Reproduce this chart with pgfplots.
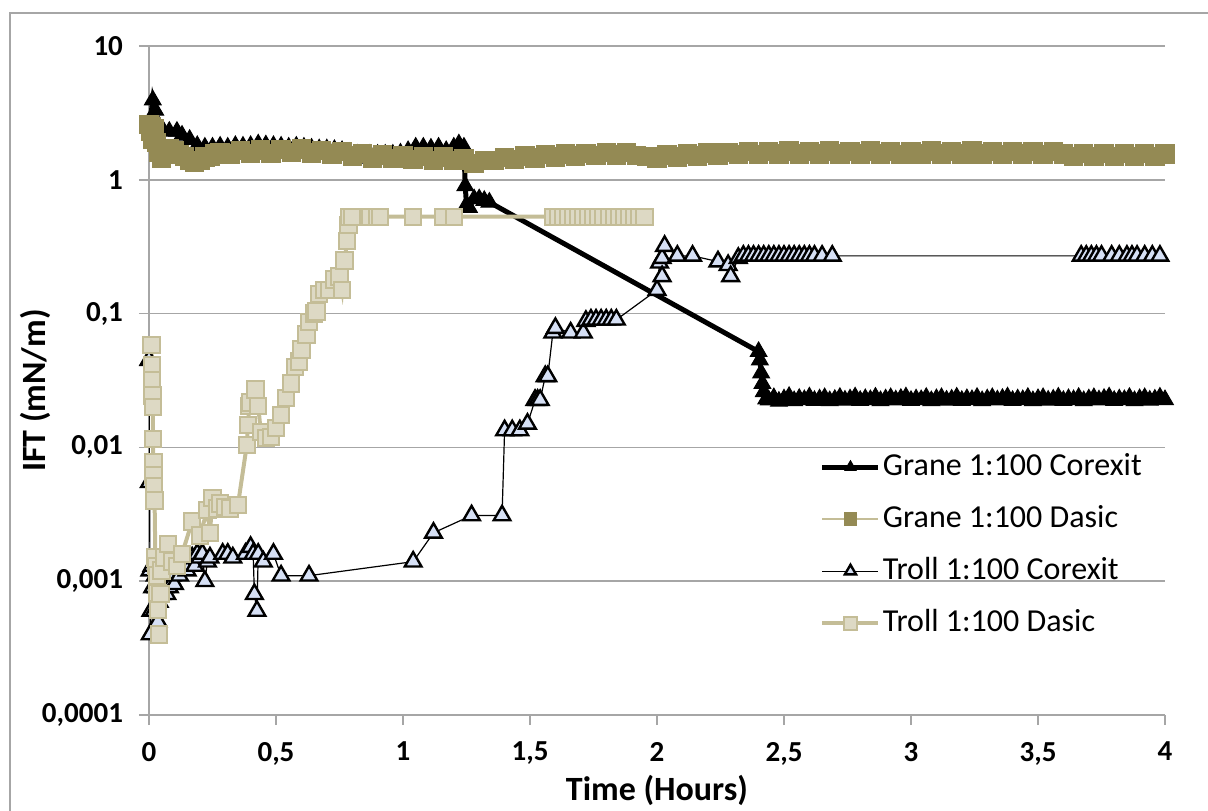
\documentclass[border=0pt]{standalone}
\usepackage{pgfplots}
\pgfplotsset{compat=1.18}
\usepackage{fontspec}
\setmainfont{Carlito}
\definecolor{gridc}{HTML}{A6A6A6}
\definecolor{olive}{HTML}{948A54}
\definecolor{olivel}{HTML}{C4BD97}
\definecolor{tanf}{HTML}{DDD9C4}
\definecolor{tane}{HTML}{C4BD97}
\definecolor{bluef}{HTML}{D6E0F5}
\begin{document}
\begin{tikzpicture}
\useasboundingbox (-74.5pt,-47.5pt) rectangle (529.5pt,357.5pt);
\draw[gridc, line width=0.8pt] (-69.5pt,-100pt) -- (-69.5pt,351pt) -- (700pt,351pt);
\begin{axis}[
  scale only axis, width=508pt, height=334.5pt,
  ymode=log, xmin=0, xmax=4, ymin=0.0001, ymax=10,
  axis x line=bottom, axis y line=left,
  axis line style={gridc, line width=0.8pt, -},
  tick style={gridc, line width=0.8pt},
  tick align=outside, major tick length=5pt,
  minor tick num=0, yminorticks=false,
  ymajorgrids, grid style={gridc, line width=0.8pt},
  xtick={0,0.5,1,1.5,2,2.5,3,3.5,4},
  xticklabels={0,{0,5},1,{1,5},2,{2,5},3,{3,5},4},
  ytick={0.0001,0.001,0.01,0.1,1,10},
  yticklabels={{0,0001},{0,001},{0,01},{0,1},1,10},
  ticklabel style={font=\bfseries\fontsize{14.5}{16}\selectfont, text=black},
  yticklabel style={xshift=-4.5pt},
  xticklabel style={yshift=-5pt},
  every axis x label/.style={at={(rel axis cs:0.5,0)}, yshift=-37.5pt, anchor=center},
  every axis y label/.style={at={(rel axis cs:0,0.485)}, xshift=-57pt, rotate=90, anchor=center},
  xlabel={Time (Hours)}, ylabel={IFT (mN/m)},
  label style={font=\bfseries\fontsize{17}{19}\selectfont},
  legend style={draw=none, fill=none, at={(rel axis cs:0.66,0.395)}, anchor=north west,
    font=\fontsize{16}{18}\selectfont, inner sep=0pt, row sep=10pt,
    nodes={text height=11pt, text depth=3pt, inner sep=1pt}},
  legend cell align=left,
  legend image code/.code={\draw[#1, mark=none] (0pt,0pt) -- (28pt,0pt); \path[#1, mark size=3.2pt] plot coordinates {(14pt,0pt)};},
  clip=true,
]
% Grane 1:100 Corexit
\addplot[black, line width=2.5pt, mark=triangle*, mark size=4.8pt, mark options={solid, fill=black, draw=black, line width=0.5pt}] coordinates {
(0.005,2.8) (0.015,3.95) (0.025,3.3) (0.04,2.5) (0.055,2.35) (0.08,2.3) (0.11,2.3) (0.13,2.15) (0.16,2.0) (0.19,1.8) (0.22,1.75)
(0.25,1.75) (0.28,1.78) (0.31,1.75) (0.34,1.8) (0.37,1.78) (0.40,1.8) (0.43,1.85) (0.46,1.82) (0.49,1.8) (0.52,1.78)
(0.55,1.75) (0.58,1.78) (0.61,1.75) (0.64,1.72) (0.67,1.7) (0.70,1.7) (0.73,1.68) (0.76,1.65) (0.79,1.6) (0.82,1.55) (0.84,1.45)
(0.87,1.55) (0.90,1.55) (0.93,1.55) (0.96,1.55) (0.99,1.58) (1.02,1.65) (1.05,1.75) (1.08,1.75) (1.11,1.72) (1.14,1.75)
(1.17,1.65) (1.20,1.75) (1.22,1.85) (1.24,1.75) (1.245,0.9) (1.25,0.65) (1.26,0.62) (1.28,0.72) (1.30,0.72) (1.32,0.7) (1.34,0.68)
(2.40,0.052) (2.405,0.045) (2.41,0.036) (2.415,0.030) (2.42,0.026) (2.43,0.023)
(2.44,0.0226) (2.46,0.0235) (2.48,0.0221) (2.50,0.023) (2.52,0.024) (2.54,0.0223) (2.56,0.0232) (2.58,0.0227) (2.60,0.0238) (2.62,0.0224)
(2.64,0.023) (2.66,0.0235) (2.68,0.0223) (2.70,0.0228) (2.72,0.0236) (2.74,0.0225) (2.76,0.023) (2.78,0.0238) (2.80,0.0224) (2.82,0.0231)
(2.84,0.0227) (2.86,0.0237) (2.88,0.0223) (2.90,0.023) (2.92,0.0235) (2.94,0.0226) (2.96,0.0232) (2.98,0.0238) (3.00,0.0224) (3.02,0.023)
(3.04,0.0227) (3.06,0.0236) (3.08,0.0223) (3.10,0.0231) (3.12,0.0235) (3.14,0.0225) (3.16,0.0229) (3.18,0.0237) (3.20,0.0224) (3.22,0.0231)
(3.24,0.0227) (3.26,0.0236) (3.28,0.0223) (3.30,0.023) (3.32,0.0235) (3.34,0.0226) (3.36,0.0232) (3.38,0.0238) (3.40,0.0224) (3.42,0.023)
(3.44,0.0227) (3.46,0.0236) (3.48,0.0223) (3.50,0.0231) (3.52,0.0235) (3.54,0.0225) (3.56,0.0229) (3.58,0.0237) (3.60,0.0224) (3.62,0.0231)
(3.64,0.0227) (3.66,0.0236) (3.68,0.0223) (3.70,0.023) (3.72,0.0235) (3.74,0.0226) (3.76,0.0232) (3.78,0.0238) (3.80,0.0224) (3.82,0.023)
(3.84,0.0227) (3.86,0.0236) (3.88,0.0223) (3.90,0.0231) (3.92,0.0235) (3.94,0.0225) (3.96,0.0229) (3.98,0.0237) (4.00,0.0227)
};
\addlegendentry{Grane 1:100 Corexit}
% Grane 1:100 Dasic
\addplot[olivel, line width=1pt, mark=square*, mark size=4.6pt, mark options={solid, fill=olive, draw=olive, line width=0.5pt}] coordinates {
(0.000,2.6) (0.005,2.3) (0.010,2.5) (0.015,2.0) (0.020,2.4) (0.030,1.9) (0.040,1.6) (0.050,1.45) (0.060,1.55) (0.080,1.7)
(0.100,1.65) (0.120,1.55) (0.140,1.5) (0.160,1.4) (0.180,1.36) (0.200,1.4) (0.22,1.48) (0.24,1.5) (0.26,1.56) (0.28,1.6) (0.32,1.56) (0.36,1.65)
(0.40,1.58) (0.44,1.67) (0.48,1.58) (0.52,1.69) (0.56,1.6) (0.60,1.7) (0.64,1.59) (0.68,1.66) (0.72,1.56) (0.76,1.62)
(0.80,1.51) (0.84,1.57) (0.88,1.46) (0.92,1.53) (0.96,1.44) (1.00,1.51) (1.04,1.42) (1.08,1.5) (1.12,1.39) (1.16,1.48)
(1.20,1.39) (1.24,1.45) (1.28,1.33) (1.32,1.4) (1.36,1.4) (1.40,1.47) (1.44,1.42) (1.48,1.51) (1.52,1.46) (1.56,1.54)
(1.60,1.48) (1.64,1.56) (1.68,1.51) (1.72,1.58) (1.76,1.52) (1.80,1.6) (1.84,1.53) (1.88,1.6) (1.92,1.52) (1.96,1.5)
(2.00,1.46) (2.04,1.53) (2.08,1.48) (2.12,1.56) (2.16,1.51) (2.20,1.59) (2.24,1.53) (2.28,1.6) (2.32,1.54) (2.36,1.62)
(2.40,1.55) (2.44,1.63) (2.48,1.56) (2.52,1.64) (2.56,1.56) (2.60,1.63) (2.64,1.56) (2.68,1.64) (2.72,1.56) (2.76,1.63)
(2.80,1.56) (2.84,1.64) (2.88,1.56) (2.92,1.63) (2.96,1.55) (3.00,1.63) (3.04,1.56) (3.08,1.64) (3.12,1.56) (3.16,1.63)
(3.20,1.56) (3.24,1.64) (3.28,1.56) (3.32,1.63) (3.36,1.55) (3.40,1.63) (3.44,1.56) (3.48,1.63) (3.52,1.55) (3.56,1.62)
(3.60,1.56) (3.64,1.5) (3.68,1.57) (3.72,1.49) (3.76,1.57) (3.80,1.5) (3.84,1.57) (3.88,1.49) (3.92,1.57) (3.96,1.5) (4.00,1.56)
};
\addlegendentry{Grane 1:100 Dasic}
% Troll 1:100 Corexit
\addplot[black, line width=0.6pt, mark=triangle*, mark size=4.8pt, mark options={solid, fill=bluef, draw=black, line width=1.2pt}] coordinates {
(0.000,0.045) (0.002,0.0055) (0.004,0.0012) (0.005,0.0004) (0.008,0.0006) (0.012,0.0013) (0.015,0.0009) (0.02,0.0006)
(0.025,0.0011) (0.03,0.0009) (0.035,0.0005) (0.04,0.0007) (0.05,0.0008) (0.06,0.0009) (0.07,0.0008) (0.08,0.0009)
(0.09,0.0011) (0.10,0.00095) (0.12,0.0011) (0.14,0.0013) (0.15,0.0012) (0.17,0.0015) (0.18,0.0013) (0.19,0.0016)
(0.20,0.0015) (0.21,0.0016) (0.22,0.001) (0.23,0.0014) (0.24,0.0015) (0.29,0.0016) (0.31,0.0016) (0.33,0.0015)
(0.38,0.0016) (0.40,0.0018) (0.41,0.0016) (0.415,0.0008) (0.425,0.0006) (0.43,0.0016) (0.45,0.0014) (0.49,0.0016)
(0.52,0.0011) (0.63,0.0011) (1.04,0.0014) (1.12,0.0023) (1.27,0.0031) (1.39,0.0031) (1.40,0.0134) (1.43,0.0134)
(1.46,0.0134) (1.49,0.015) (1.52,0.0226) (1.53,0.0226) (1.54,0.0226) (1.56,0.034) (1.57,0.034) (1.59,0.072)
(1.60,0.078) (1.66,0.072) (1.71,0.072) (1.72,0.088) (1.74,0.09) (1.76,0.09) (1.78,0.09) (1.80,0.09) (1.82,0.09) (1.84,0.09)
(2.00,0.15) (2.01,0.24) (2.02,0.19) (2.02,0.26) (2.03,0.32) (2.08,0.27) (2.14,0.27) (2.24,0.245) (2.28,0.23) (2.29,0.19)
(2.32,0.26) (2.34,0.27) (2.36,0.27) (2.38,0.27) (2.40,0.27) (2.42,0.27) (2.44,0.27) (2.46,0.27) (2.48,0.27) (2.50,0.27)
(2.52,0.27) (2.54,0.27) (2.56,0.27) (2.58,0.27) (2.60,0.27) (2.62,0.27) (2.65,0.27) (2.69,0.27)
(3.67,0.27) (3.69,0.27) (3.71,0.27) (3.73,0.27) (3.75,0.27) (3.79,0.27) (3.82,0.27) (3.85,0.27) (3.87,0.27) (3.89,0.27)
(3.92,0.27) (3.95,0.27) (3.98,0.27)
};
\addlegendentry{Troll 1:100 Corexit}
% Troll 1:100 Dasic
\addplot[tane, line width=2pt, mark=square*, mark size=4.1pt, mark options={solid, fill=tanf, draw=tane, line width=1pt}] coordinates {
(0.010,0.058) (0.011,0.041) (0.012,0.032) (0.013,0.0245) (0.015,0.020) (0.016,0.0115) (0.017,0.0078) (0.018,0.0062)
(0.020,0.0051) (0.022,0.0040) (0.025,0.0015) (0.030,0.0013) (0.032,0.0011) (0.034,0.00082) (0.036,0.00061) (0.040,0.0004)
(0.045,0.0008) (0.05,0.0012) (0.06,0.0015) (0.075,0.0019) (0.09,0.0014) (0.11,0.0013) (0.13,0.0016) (0.17,0.0028)
(0.20,0.0022) (0.23,0.0034) (0.24,0.0023) (0.25,0.0042) (0.27,0.0035) (0.28,0.0038) (0.30,0.0036) (0.32,0.0035)
(0.35,0.0037) (0.385,0.0104) (0.39,0.0147) (0.395,0.0205) (0.40,0.0217) (0.42,0.027) (0.43,0.0205) (0.44,0.0131)
(0.46,0.0118) (0.48,0.012) (0.50,0.014) (0.52,0.0174) (0.54,0.0235) (0.56,0.030) (0.575,0.040) (0.59,0.044)
(0.60,0.054) (0.62,0.07) (0.63,0.087) (0.65,0.10) (0.66,0.104) (0.67,0.14) (0.69,0.15) (0.71,0.15) (0.73,0.18)
(0.75,0.19) (0.76,0.15) (0.77,0.25) (0.78,0.35) (0.785,0.46) (0.79,0.53) (0.80,0.53) (0.87,0.53) (0.90,0.53)
(0.91,0.53) (1.04,0.53) (1.16,0.53) (1.20,0.53) (1.59,0.53) (1.61,0.53) (1.63,0.53) (1.65,0.53) (1.67,0.53)
(1.69,0.53) (1.71,0.53) (1.73,0.53) (1.75,0.53) (1.77,0.53) (1.79,0.53) (1.81,0.53) (1.83,0.53) (1.85,0.53)
(1.87,0.53) (1.89,0.53) (1.91,0.53) (1.93,0.53) (1.95,0.53)
};
\addlegendentry{Troll 1:100 Dasic}
\end{axis}
\end{tikzpicture}
\end{document}
